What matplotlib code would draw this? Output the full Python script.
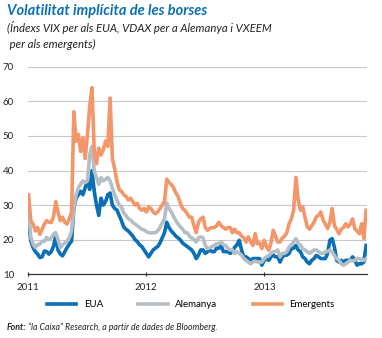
import matplotlib
matplotlib.use("Agg")
from matplotlib import pyplot as plt
import pandas as pd

plt.rcParams["font.family"] = ["Lato", "DejaVu Sans"]

# Weekly readings, first week of Jan 2011 to mid Nov 2013
start_date = "2011-01-03"
year_ticks = ["2011-01-01", "2012-01-01", "2013-01-01"]
year_labels = ["2011", "2012", "2013"]
y_ticks = [10, 20, 30, 40, 50, 60, 70]

eua = [
    25, 19.6, 17.7, 16.5, 15.8, 14.8, 15, 16.7, 16.5, 15.8,
    16.5, 18, 21, 17, 15.8, 15.3, 16.5, 17.7, 18.7, 19.6,
    29.2, 32, 33, 34, 33, 35, 37, 34.5, 40, 34,
    30, 27, 32, 30, 31, 33, 33.5, 30, 29, 28.6,
    27, 25.5, 23.7, 23, 22.5, 21.8, 21, 20, 19.4, 18.5,
    18, 17, 16, 15, 16, 17, 17.5, 18, 19, 20.5,
    22, 25, 23.5, 22.5, 21.8, 21, 20.5, 19.9, 19, 18.5,
    18, 17.5, 17, 16, 14.5, 15.5, 17, 17, 16, 16.5,
    17, 16.5, 16.5, 17.5, 17.5, 18.3, 16.5, 16.5, 16.5, 16,
    16.5, 17.8, 18.5, 19.8, 17, 15, 15, 14.5, 14, 14.5,
    14.5, 14.5, 14.5, 12.6, 14, 14.5, 14, 15, 15.5, 15,
    15, 13.5, 15, 15.5, 15.5, 16, 17.4, 17.5, 18.3, 17,
    16.5, 15, 14.5, 13.5, 13, 14, 14.5, 15.4, 15, 14.5,
    14.5, 14.5, 16, 19.8, 20.3, 17.8, 14, 13.5, 14, 13.5,
    14, 14, 14, 15, 14, 12.6, 13, 13, 13.5, 18.3,
]

alemanya = [
    29.2, 20.6, 18.7, 17.7, 18.5, 18.7, 19.5, 19.5, 20.6, 20,
    20.5, 21.5, 22, 20, 17.7, 18.5, 19, 19.6, 20.5, 22.5,
    29.2, 33, 35, 36, 37, 36.5, 37, 44.6, 47, 39.8,
    38, 36, 37.9, 37, 37.5, 38, 37, 35, 33, 31.5,
    30, 29.5, 27.7, 27, 26, 25.7, 25, 24.5, 24, 23.5,
    23, 22.8, 22.3, 22, 21.9, 22, 22, 22.5, 23.5, 24.8,
    26, 30.6, 29, 28, 26.7, 25.5, 24.5, 23.7, 23, 22,
    22, 21, 20.5, 20, 19.3, 20.5, 20.8, 20.5, 18.3, 17.4,
    17.6, 18, 18.3, 18.8, 18.8, 19.3, 18.5, 18.3, 17.4, 17,
    17, 16, 16.5, 16, 15.5, 14.5, 14, 13.5, 13, 13.5,
    13.8, 13.5, 13.5, 13.5, 14.5, 15, 15.3, 16, 16.5, 16.5,
    17, 15, 16, 16, 16.5, 17.8, 18.5, 19.3, 20.3, 19,
    18.3, 17.4, 17, 16.5, 16, 16.5, 17, 17, 16.5, 16,
    16, 16.5, 16.5, 17, 16.5, 15.4, 14.5, 14, 13, 12.6,
    13, 13.5, 14, 13.8, 14, 14.5, 14.5, 14, 14, 14.5,
]

emergents = [
    33, 25.5, 24.5, 22.5, 23.5, 21.5, 23, 24.5, 25.5, 25,
    25, 26.5, 31, 28, 25.5, 26.5, 25, 24.5, 26, 28,
    57, 48.5, 50.5, 45.5, 49.5, 43.5, 50.5, 58.5, 64, 45.5,
    42, 46.5, 44.5, 46, 48.5, 47, 61, 43.5, 40.5, 37,
    34.5, 34, 33, 32.5, 31.5, 32, 31, 30, 30.5, 29,
    28.5, 29, 28, 29.5, 29, 28, 27.5, 28, 29, 30,
    31, 37.5, 36.5, 36, 35, 33.5, 32.5, 30.5, 29, 28.5,
    27.5, 26.5, 26.5, 24, 22, 25, 26, 26.5, 23.5, 22.7,
    23.2, 23.5, 23.5, 24, 25, 24, 23.5, 23, 23.5, 23.5,
    22, 23, 22, 22, 21, 20.5, 19.3, 20.8, 19.5, 18.3,
    21.7, 18.8, 19, 17.4, 19.8, 18, 16.9, 19, 22.7, 21,
    19.3, 19.3, 20.5, 21, 22, 24.6, 26, 28.5, 38, 31.5,
    28.5, 29.5, 26.6, 23.7, 23, 24, 25, 26.6, 27, 28,
    25.6, 24.5, 23.2, 25, 29, 24, 23, 21.7, 23, 23.5,
    24.6, 23.7, 24.5, 26, 23.2, 22.5, 21.7, 24.6, 20.3, 28.5,
]

dates = pd.date_range(start_date, periods=len(eua), freq="7D")

blue = "#0a6fb7"
grey = "#b4bec4"
orange = "#f3966a"

fig = plt.figure(figsize=(3.82, 3.38), dpi=100)
ax = fig.add_axes([0.073, 0.189, 0.888, 0.613])

ax.plot(dates, eua, color=blue, lw=2.6, label="EUA")
ax.plot(dates, alemanya, color=grey, lw=2.6, label="Alemanya")
ax.plot(dates, emergents, color=orange, lw=2.6, label="Emergents")

ax.set_ylim(10, 70)
ax.set_yticks(y_ticks)
ax.set_xlim(pd.Timestamp("2011-01-01"), pd.Timestamp("2013-11-14"))
ax.set_xticks(pd.to_datetime(year_ticks))
ax.set_xticklabels(year_labels)
ax.grid(axis="y", color="#c8c8c8", lw=0.8)
ax.set_axisbelow(True)

for side in ["left", "right", "top"]:
    ax.spines[side].set_visible(False)
ax.spines["bottom"].set_color("#333333")
ax.spines["bottom"].set_linewidth(0.9)
ax.tick_params(axis="y", length=0, labelsize=7, pad=10, colors="#222222")
ax.tick_params(axis="x", length=3, direction="inout", labelsize=7,
               colors="#222222", pad=5)

fig.legend(loc="lower center", bbox_to_anchor=(0.5, 0.06), ncol=3,
           frameon=False, fontsize=7, handlelength=3.0, columnspacing=3.6,
           handletextpad=0.8)

fig.text(0.018, 0.955, "Volatilitat implícita de les borses",
         fontsize=10.5, fontweight="bold", fontstyle="italic", color=blue)
fig.text(0.018, 0.905, "(Índexs VIX per als EUA, VDAX per a Alemanya i VXEEM",
         fontsize=8.2, fontstyle="italic", color="#222222")
fig.text(0.018, 0.857, " per als emergents)",
         fontsize=8.2, fontstyle="italic", color="#222222")
fig.text(0.018, 0.025, "Font:", fontsize=6.3, fontweight="bold",
         fontstyle="italic", color="#222222")
fig.text(0.072, 0.025, "\u201cla Caixa\u201d Research, a partir de dades de Bloomberg.",
         fontsize=6.3, fontstyle="italic", color="#222222")

fig.savefig("out.png", dpi=100)
